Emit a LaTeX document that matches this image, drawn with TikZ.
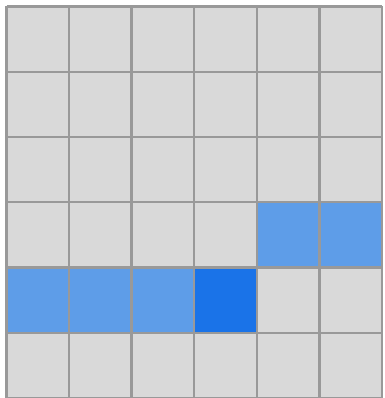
\documentclass[tikz,border=0pt]{standalone}
\definecolor{cellgray}{HTML}{D9D9D9}
\definecolor{linegray}{HTML}{999999}
\definecolor{lightblue}{HTML}{5E9DE8}
\definecolor{darkblue}{HTML}{1A73E8}
\begin{document}
\begin{tikzpicture}[x=1pt, y=-1pt]
  \useasboundingbox (0,0) rectangle (384,398);
  \fill[white] (0,0) rectangle (384,398);

  % cells
  \fill[cellgray] (6.5,6.5) rectangle (382,398);
  \foreach \c in {4,5}
    \fill[lightblue] (6.5+\c*62.58,6.5+3*65.25) rectangle ++(62.58,65.25);
  \foreach \c in {0,1,2}
    \fill[lightblue] (6.5+\c*62.58,6.5+4*65.25) rectangle ++(62.58,65.25);
  \fill[darkblue] (6.5+3*62.58,6.5+4*65.25) rectangle ++(62.58,65.25);

  % grid lines
  \foreach \i in {0,...,6} {
    \draw[linegray, line width=2.4pt] (6.5+\i*62.58,6.5) -- (6.5+\i*62.58,398);
    \draw[linegray, line width=2.4pt] (6.5,6.5+\i*65.25) -- (382,6.5+\i*65.25);
  }
\end{tikzpicture}
\end{document}
